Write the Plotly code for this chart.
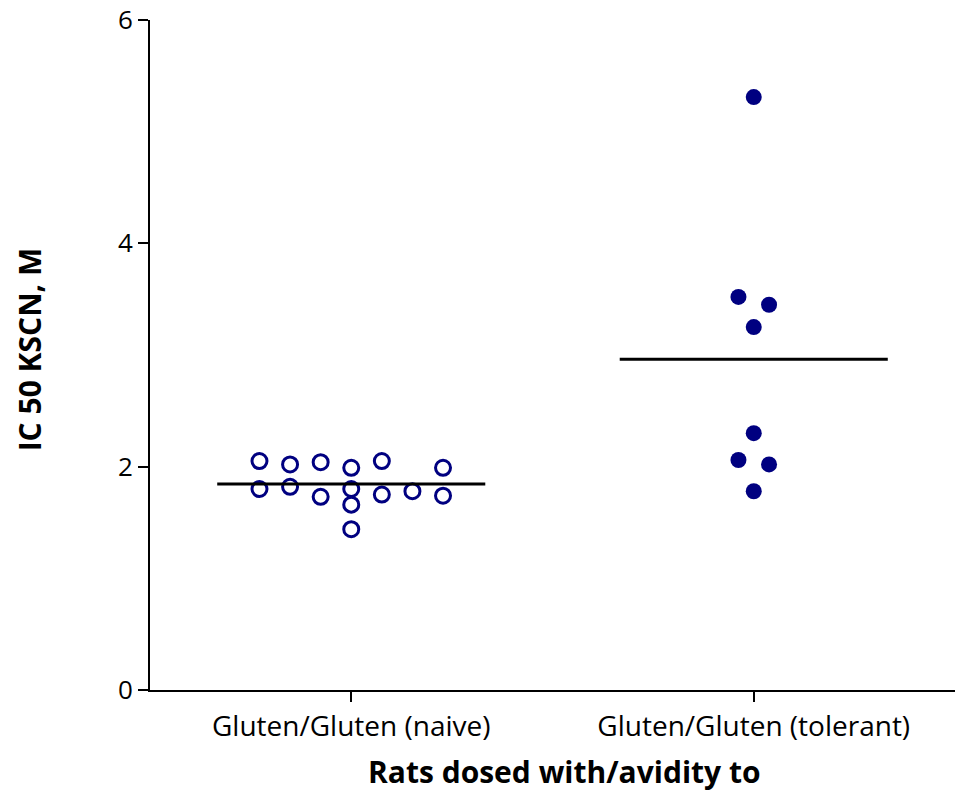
import plotly.graph_objects as go

categories = ["Gluten/Gluten (naive)", "Gluten/Gluten (tolerant)"]
naive_values = [2.05, 2.02, 2.04, 1.99, 2.05, 1.99, 1.80, 1.82, 1.73, 1.80, 1.66, 1.44, 1.75, 1.78, 1.74]
naive_cols = [-3, -2, -1, 0, 1, 3, -3, -2, -1, 0, 0, 0, 1, 2, 3]
tolerant_values = [5.31, 3.52, 3.45, 3.25, 2.30, 2.06, 2.02, 1.78]
tolerant_cols = [0, -0.5, 0.5, 0, 0, -0.5, 0.5, 0]
y_ticks = [0, 2, 4, 6]
x_title = "Rats dosed with/avidity to"
y_title = "IC 50 KSCN, M"

col_w = 0.076
navy = "#000080"

fig = go.Figure()
fig.add_trace(go.Scatter(
    x=[0 + c * col_w for c in naive_cols], y=naive_values, mode="markers",
    marker=dict(symbol="circle-open", size=15, color=navy, line=dict(width=3, color=navy)),
    showlegend=False))
fig.add_trace(go.Scatter(
    x=[1 + c * col_w for c in tolerant_cols], y=tolerant_values, mode="markers",
    marker=dict(symbol="circle", size=16, color=navy),
    showlegend=False))

for i, vals in enumerate([naive_values, tolerant_values]):
    m = sum(vals) / len(vals)
    fig.add_trace(go.Scatter(x=[i - 0.333, i + 0.333], y=[m, m], mode="lines",
                             line=dict(color="black", width=3), showlegend=False))

font = "Open Sans, Lato, sans-serif"
fig.update_layout(
    width=955, height=792,
    margin=dict(l=150, r=0, t=20, b=102),
    plot_bgcolor="white", paper_bgcolor="white",
    font=dict(family=font, color="black"),
    xaxis=dict(range=[-0.5, 1.5], tickmode="array", tickvals=[0, 1], ticktext=categories,
               showline=True, linecolor="black", linewidth=2, ticks="outside", ticklen=10,
               tickwidth=2, tickcolor="black", showgrid=False, zeroline=False,
               tickfont=dict(size=28, family=font)),
    yaxis=dict(range=[0, 6], tickmode="array", tickvals=y_ticks,
               showline=True, linecolor="black", linewidth=2, ticks="outside", ticklen=10,
               tickwidth=2, tickcolor="black", showgrid=False, zeroline=False,
               tickfont=dict(size=26, family=font)),
    annotations=[
        dict(text="<b>" + x_title + "</b>", xref="paper", yref="paper", x=0.5155, y=-0.1215,
             xanchor="center", yanchor="middle", showarrow=False, font=dict(size=30, family=font)),
        dict(text="<b>" + y_title + "</b>", xref="paper", yref="paper", x=-0.1486, y=0.509,
             xanchor="center", yanchor="middle", textangle=-90, showarrow=False,
             font=dict(size=30, family=font)),
    ],
)
fig.write_html("out.html", config={"displayModeBar": False},
               post_script="document.body.style.margin='0';document.body.style.overflow='hidden';")
